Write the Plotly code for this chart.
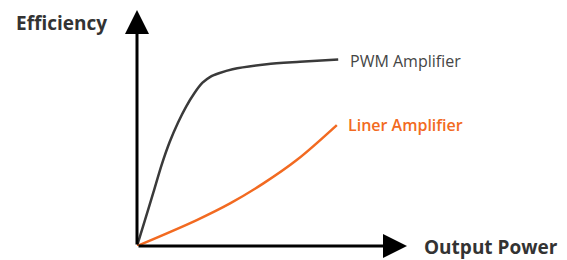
import plotly.graph_objects as go

# Data (x: output power, y: efficiency) in arbitrary units 0-100
pwm_x = [0, 3, 6, 9, 12, 15, 18, 21, 24, 27, 30, 35, 47.5, 59.7, 73.7]
pwm_y = [0, 11.2, 22.5, 34.0, 43.8, 51.8, 58.6, 64.2, 68.6, 71.2, 72.6, 74.3, 76.4, 77.4, 78.4]
lin_x = [0, 21.9, 34.1, 46.3, 58.5, 73.2]
lin_y = [0, 10.9, 17.9, 26.3, 36.1, 50.8]

x_label = "Output Power"
y_label = "Efficiency"
pwm_name = "PWM Amplifier"
lin_name = "Liner Amplifier"

FONT = "Open Sans"
fig = go.Figure()
fig.add_trace(go.Scatter(x=pwm_x, y=pwm_y, mode="lines",
                         line=dict(color="#3a3a3a", width=2.5, shape="spline", smoothing=0.8), name=pwm_name))
fig.add_trace(go.Scatter(x=lin_x, y=lin_y, mode="lines",
                         line=dict(color="#f26a21", width=2.5, shape="spline"), name=lin_name))

# axes arrows
fig.add_annotation(x=98.9, y=0, ax=0, ay=0, xref="x", yref="y", axref="x", ayref="y",
                   showarrow=True, arrowhead=2, arrowsize=1.6, arrowwidth=3, arrowcolor="#000", text="")
fig.add_annotation(x=0, y=99.2, ax=0, ay=0, xref="x", yref="y", axref="x", ayref="y",
                   showarrow=True, arrowhead=2, arrowsize=1.6, arrowwidth=3, arrowcolor="#000", text="")

fig.add_annotation(x=pwm_x[-1], y=pwm_y[-1], xref="x", yref="y", text=pwm_name, showarrow=False,
                   xanchor="left", yanchor="middle", xshift=10, yshift=-2,
                   font=dict(family=FONT, size=16, color="#454545"))
fig.add_annotation(x=lin_x[-1], y=lin_y[-1], xref="x", yref="y", text=lin_name, showarrow=False,
                   xanchor="left", yanchor="middle", xshift=9,
                   font=dict(family=FONT, size=16, color="#f26a21", weight=600))
fig.add_annotation(x=1.045, y=0, xref="x domain", yref="y domain", text=x_label, showarrow=False,
                   xanchor="left", yanchor="middle", yshift=-1,
                   font=dict(family=FONT, size=19, color="#333", weight="bold"))
fig.add_annotation(x=0, y=0.937, xref="x domain", yref="y domain", text=y_label, showarrow=False,
                   xanchor="right", yanchor="middle", xshift=-28,
                   font=dict(family=FONT, size=19, color="#333", weight="bold"))

fig.update_xaxes(range=[0, 100], visible=False, fixedrange=True)
fig.update_yaxes(range=[0, 100], visible=False, fixedrange=True)
fig.update_layout(width=567, height=260, margin=dict(l=129, r=165, t=0, b=22),
                  showlegend=False, plot_bgcolor="white", paper_bgcolor="white")
fig.write_html("out.html")
